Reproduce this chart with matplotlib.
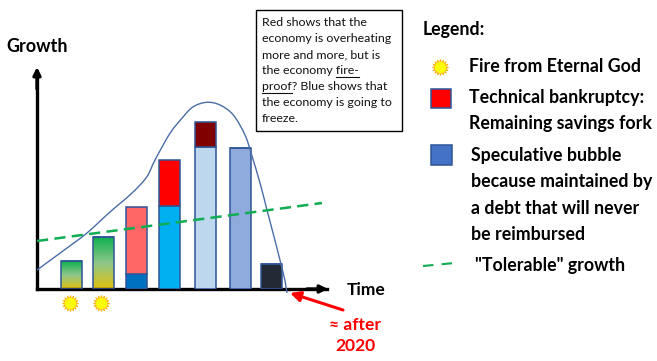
import numpy as np
import matplotlib.pyplot as plt
from matplotlib.colors import LinearSegmentedColormap
from matplotlib.path import Path
from matplotlib.patches import PathPatch

plt.rcParams['font.family'] = ['Lato', 'DejaVu Sans']

# Столбцы: положение на оси времени и высота частей
bar_time = [34, 66, 99, 132, 168.5, 203, 234]
bar_lower = [28, 52, 15, 83, 142, 141, 25]
bar_upper = [0, 0, 67, 46, 25, 0, 0]
lower_colors = ['none', 'none', '#0070c0', '#00b0f0', '#bdd7ee', '#8faadc', '#222a35']
upper_colors = ['none', 'none', '#ff6666', '#ff0000', '#800000', 'none', 'none']

# Кривая роста
curve_time = [0, 30, 50, 73, 94.7, 109.7, 118, 133, 146.3, 156.3, 169.7, 183, 196.3, 208,
              214.7, 223, 230, 246, 250]
curve_growth = [19, 41, 56, 77, 95.7, 112, 129, 155.7, 172.3, 182.3, 186.7, 184, 174, 154,
                134, 106, 79, 17, -4]

# Допустимый рост
trend_time = [0, 285]
trend_growth = [48, 86]

sun_time = [33, 64]

legend_text = [
    ('Fire from Eternal God', 469, 67),
    ('Technical bankruptcy:', 469, 98),
    ('Remaining savings fork', 469, 124),
    ('Speculative bubble', 471, 156),
    ('because maintained by', 471, 182),
    ('a debt that will never', 471, 208),
    ('be reimbursed', 471, 235),
    ('"Tolerable" growth', 475, 266),
]

note_lines = [
    'Red shows that the',
    'economy is overheating',
    'more and more, but is',
    'the economy fire-',
    'proof? Blue shows that',
    'the economy is going to',
    'freeze.',
]
note_y = [23, 39, 55, 71, 87, 103, 119]


# Гладкая линия через точки (Catmull-Rom в кривые Безье)
def smooth_path(xs, ys):
    pts = np.column_stack([xs, ys])
    verts = [pts[0]]
    codes = [Path.MOVETO]
    for i in range(len(pts) - 1):
        p0 = pts[max(i - 1, 0)]
        p1 = pts[i]
        p2 = pts[i + 1]
        p3 = pts[min(i + 2, len(pts) - 1)]
        verts += [p1 + (p2 - p0) / 6, p2 - (p3 - p1) / 6, p2]
        codes += [Path.CURVE4] * 3
    return Path(verts, codes)


W, H = 657, 361
fig = plt.figure(figsize=(W / 100, H / 100), dpi=100, facecolor='white')

# Основной график
ax = fig.add_axes([37 / W, (H - 289) / H, 290 / W, 216 / H])
ax.patch.set_alpha(0)
ax.set_xticks([])
ax.set_yticks([])
for side in ['top', 'right']:
    ax.spines[side].set_visible(False)
for side in ['left', 'bottom']:
    ax.spines[side].set_linewidth(2.4)

edge = '#2f5597'
ax.bar(bar_time, bar_lower, width=21, color=lower_colors, edgecolor=edge, linewidth=1.1, zorder=3)
ax.bar(bar_time, bar_upper, width=21, bottom=bar_lower, color=upper_colors, edgecolor=edge,
       linewidth=1.1, zorder=3)

# Градиент в первых двух столбцах
cmap = LinearSegmentedColormap.from_list('gy', ['#e2c10f', '#8ec78a', '#10b050'])
grad = np.linspace(0, 1, 64).reshape(-1, 1)
for t, g in zip(bar_time[:2], bar_lower[:2]):
    ax.imshow(grad, cmap=cmap, origin='lower', aspect='auto',
              extent=[t - 10.5, t + 10.5, 0, g], zorder=2)
ax.set_xlim(0, 290)
ax.set_ylim(0, 216)

ax.add_patch(PathPatch(smooth_path(curve_time, curve_growth), facecolor='none', edgecolor='#4a6da7',
                       lw=1.0, clip_on=False, zorder=4))
ax.plot(trend_time, trend_growth, color='#10ad52', lw=1.8, dashes=(4.5, 2.5), zorder=5)

# Стрелки осей
ax.annotate('', xy=(0, 222), xytext=(0, 200), annotation_clip=False,
            arrowprops=dict(arrowstyle='-|>', color='black', lw=2.4, mutation_scale=11, shrinkA=0, shrinkB=0))
ax.annotate('', xy=(291, 0), xytext=(270, 0), annotation_clip=False,
            arrowprops=dict(arrowstyle='-|>', color='black', lw=2.4, mutation_scale=11, shrinkA=0, shrinkB=0))

# Солнца под осью
ax.scatter(sun_time, [-14, -14], marker=(16, 1, 0), s=120, color='#fdb515', clip_on=False, zorder=5)
ax.scatter(sun_time, [-14, -14], marker='o', s=50, color='#ffff00', clip_on=False, zorder=6)

# Слой для подписей в пикселях
ov = fig.add_axes([0, 0, 1, 1])
ov.axis('off')
ov.patch.set_alpha(0)
ov.set_xlim(0, W)
ov.set_ylim(H, 0)
ov.set_autoscale_on(False)

ov.text(6, 46, 'Growth', fontsize=13, fontweight='bold', va='center')
ov.text(347, 290, 'Time', fontsize=12.5, fontweight='bold', va='center')
ov.text(355, 325, '≈ after', fontsize=12.6, fontweight='bold', color='#ff0000', ha='center', va='center')
ov.text(355, 346, '2020', fontsize=12.6, fontweight='bold', color='#ff0000', ha='center', va='center')
ov.annotate('', xy=(290, 293), xytext=(343, 310),
            arrowprops=dict(arrowstyle='-|>', color='#ff0000', lw=2.2, mutation_scale=15, shrinkA=0, shrinkB=0))

# Текстовый блок
ov.add_patch(plt.Rectangle((255.5, 10), 146, 121, fill=False, edgecolor='black', lw=1.0))
renderer = fig.canvas.get_renderer()
for line, y in zip(note_lines, note_y):
    ov.text(262, y, line, fontsize=8.9, va='center', color='#111111')

# Подчёркивание fire-proof
for prefix, word, y in [('the economy ', 'fire-', 71), ('', 'proof', 87)]:
    start = 262
    if prefix:
        probe = ov.text(262, y, prefix.replace(' ', '\u00a0'), fontsize=8.9, alpha=0)
        start = ov.transData.inverted().transform(probe.get_window_extent(renderer))[1][0]
    probe = ov.text(start, y, word, fontsize=8.9, alpha=0)
    end = ov.transData.inverted().transform(probe.get_window_extent(renderer))[1][0]
    ov.plot([start, end], [y + 6, y + 6], color='#111111', lw=0.8)

# Легенда
ov.text(423, 29, 'Legend:', fontsize=12.8, fontweight='bold', va='center')
for label, x, y in legend_text:
    ov.text(x, y, label, fontsize=12.8, fontweight='bold', va='center')
ov.scatter([440], [67], marker=(16, 1, 0), s=120, color='#fdb515', zorder=5)
ov.scatter([440], [67], marker='o', s=50, color='#ffff00', zorder=6)
ov.add_patch(plt.Rectangle((430.5, 89), 20, 19, facecolor='#ff0000', edgecolor=edge, lw=1.1))
ov.add_patch(plt.Rectangle((430.5, 145), 21, 20, facecolor='#4472c4', edgecolor=edge, lw=1.1))
ov.plot([423, 460], [266, 262.5], color='#10ad52', lw=1.5, dashes=(5, 4))

fig.savefig('out.png', dpi=100)
